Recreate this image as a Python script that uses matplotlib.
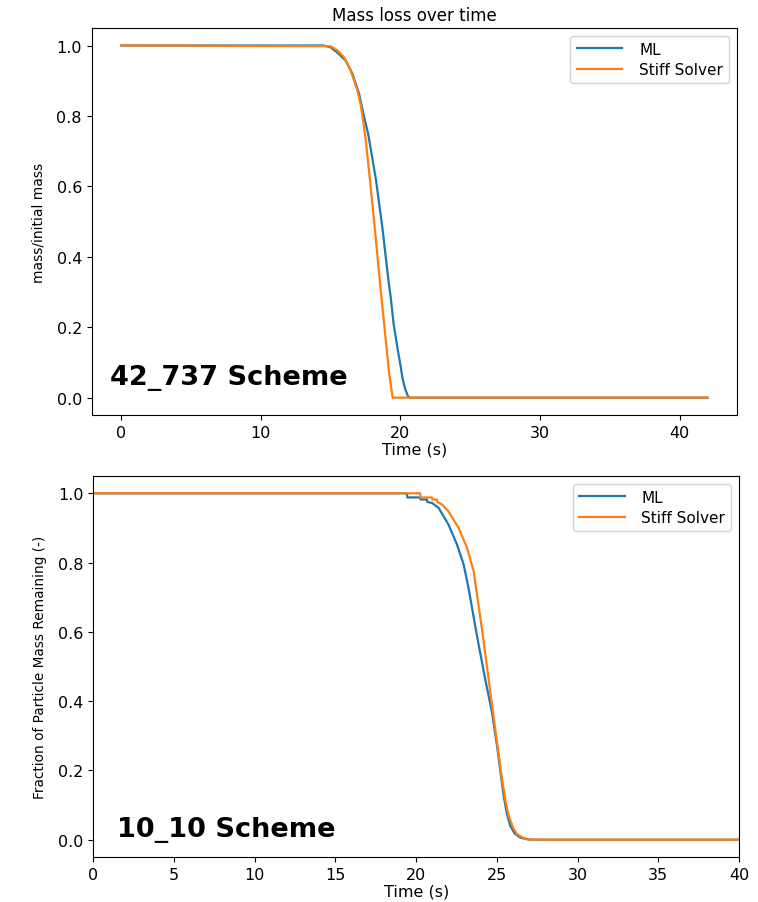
import matplotlib
matplotlib.use("Agg")
import matplotlib.pyplot as plt

# ---- top panel: 42_737 scheme ----
top_ml_t = [0.0, 14.5, 15.0, 15.49, 16.09, 16.57, 17.05, 17.41, 17.7, 18.25,
            18.73, 19.14, 19.33, 19.52, 19.81, 20.0, 20.17, 20.35, 20.53,
            20.65, 42.0]
top_ml_y = [1.0, 1.0, 0.995, 0.98, 0.957, 0.92, 0.863, 0.797, 0.749, 0.621,
            0.479, 0.337, 0.28, 0.21, 0.138, 0.095, 0.053, 0.025, 0.006,
            0.0, 0.0]

top_stiff_t = [0.0, 15.0, 15.49, 15.97, 16.45, 16.93, 17.15, 17.33, 17.53,
               17.89, 18.25, 18.61, 18.97, 19.2, 19.45, 42.0]
top_stiff_y = [1.0, 0.998, 0.986, 0.967, 0.929, 0.872, 0.835, 0.79, 0.73,
               0.595, 0.45, 0.30, 0.16, 0.07, 0.0, 0.0]

# ---- bottom panel: 10_10 scheme ----
bot_ml_t = [0.0, 19.43, 19.45, 20.25, 20.27, 20.67, 20.69, 20.98, 21.39,
            22.0, 22.53, 22.94, 23.25, 23.77, 24.28, 24.7, 25.01, 25.42,
            25.62, 25.83, 26.1, 26.45, 26.9, 27.2, 40.0]
bot_ml_y = [1.0, 1.0, 0.988, 0.988, 0.982, 0.982, 0.975, 0.972, 0.958,
            0.91, 0.852, 0.795, 0.725, 0.588, 0.463, 0.367, 0.271, 0.127,
            0.075, 0.040, 0.018, 0.006, 0.001, 0.0, 0.0]

bot_stiff_t = [0.0, 20.25, 20.27, 20.98, 21.0, 21.29, 21.31, 21.6, 22.0,
               22.63, 23.15, 23.56, 24.08, 24.49, 24.9, 25.32, 25.52, 25.73,
               26.0, 26.25, 26.6, 26.87, 27.3, 40.0]
bot_stiff_y = [1.0, 1.0, 0.988, 0.988, 0.982, 0.982, 0.975, 0.968, 0.948,
               0.90, 0.843, 0.775, 0.607, 0.463, 0.319, 0.175, 0.115, 0.069,
               0.035, 0.016, 0.006, 0.002, 0.0, 0.0]

series_labels = ["ML", "Stiff Solver"]
y_ticks = [0.0, 0.2, 0.4, 0.6, 0.8, 1.0]
top_x_ticks = [0, 10, 20, 30, 40]
bot_x_ticks = [0, 5, 10, 15, 20, 25, 30, 35, 40]

BLUE = "#1f77b4"
ORANGE = "#ff7f0e"

fig = plt.figure(figsize=(7.58, 9.03), dpi=100)

# top axes
ax1 = fig.add_axes([0.121, 0.539, 0.851, 0.429])
ax1.plot(top_ml_t, top_ml_y, color=BLUE, lw=1.6, label=series_labels[0])
ax1.plot(top_stiff_t, top_stiff_y, color=ORANGE, lw=1.6, label=series_labels[1])
ax1.set_xticks(top_x_ticks)
ax1.set_yticks(y_ticks)
ax1.tick_params(labelsize=11.5)
ax1.set_title("Mass loss over time", fontsize=12, pad=6)
ax1.set_xlabel("Time (s)", fontsize=11.5, labelpad=1)
ax1.set_ylabel("mass/initial mass", fontsize=10, labelpad=8)
ax1.legend(loc="upper right", fontsize=11, handlelength=3.0,
           handletextpad=1.1, labelspacing=0.35)
ax1.text(0.028, 0.08, "42_737 Scheme", transform=ax1.transAxes,
         fontsize=19.5, fontweight="bold", family="DejaVu Sans",
         va="baseline")

# bottom axes
ax2 = fig.add_axes([0.123, 0.0498, 0.852, 0.422])
ax2.plot(bot_ml_t, bot_ml_y, color=BLUE, lw=1.6, label=series_labels[0])
ax2.plot(bot_stiff_t, bot_stiff_y, color=ORANGE, lw=1.6, label=series_labels[1])
ax2.set_xlim(0, 40)
ax2.set_xticks(bot_x_ticks)
ax2.set_yticks(y_ticks)
ax2.tick_params(labelsize=11.5)
ax2.set_xlabel("Time (s)", fontsize=11.5, labelpad=1)
ax2.set_ylabel("Fraction of Particle Mass Remaining (-)", fontsize=9.8,
               labelpad=8)
ax2.legend(loc="upper right", fontsize=11, handlelength=3.0,
           handletextpad=1.1, labelspacing=0.35)
ax2.text(0.037, 0.055, "10_10 Scheme", transform=ax2.transAxes,
         fontsize=19.5, fontweight="bold", family="DejaVu Sans",
         va="baseline")

fig.savefig("out.png", dpi=100)
